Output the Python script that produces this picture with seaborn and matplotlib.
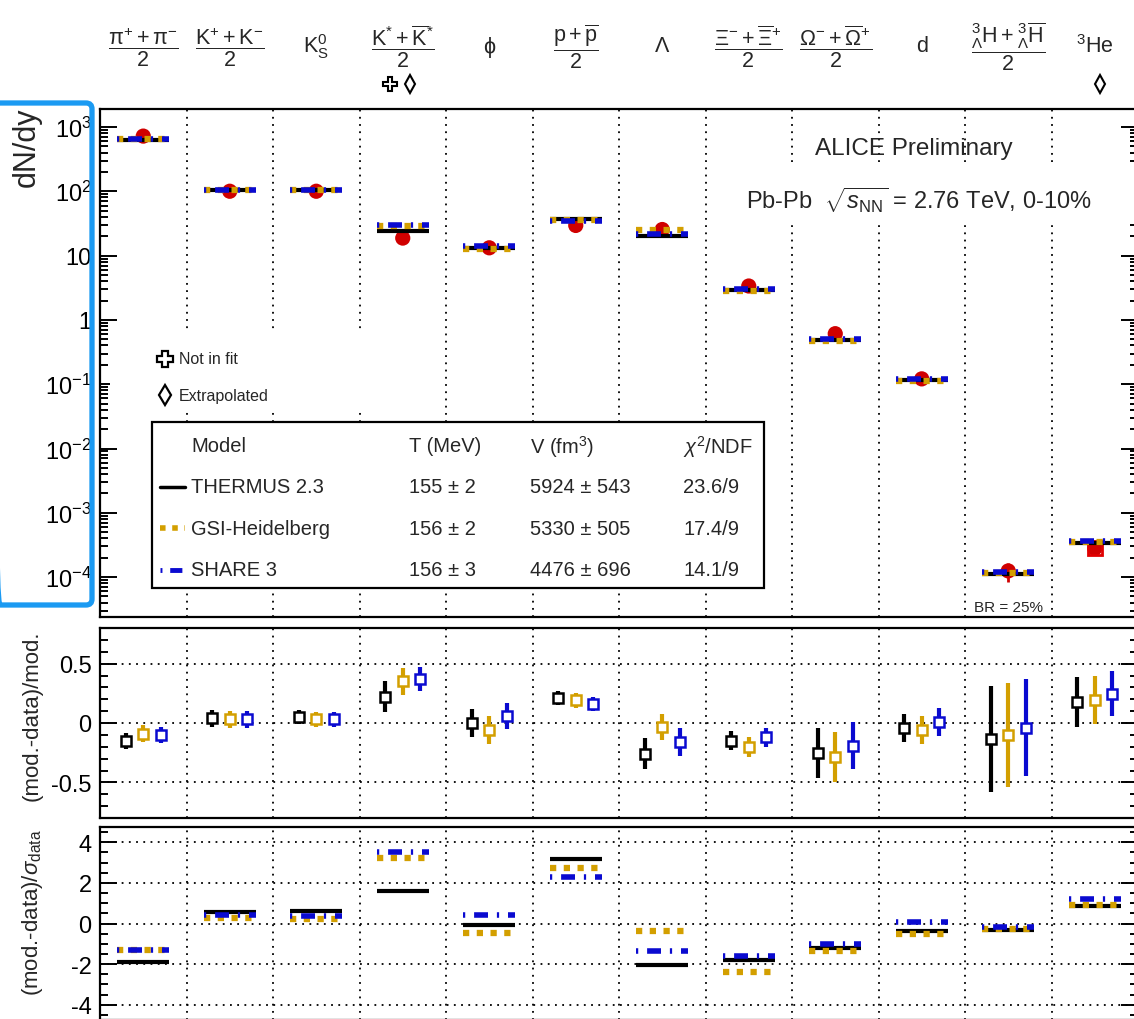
import numpy as np
import matplotlib
matplotlib.use("Agg")
import matplotlib.pyplot as plt
import matplotlib.transforms as mtransforms
from matplotlib.patches import Rectangle, FancyBboxPatch
from matplotlib.lines import Line2D
from matplotlib.ticker import FixedLocator, FixedFormatter, MultipleLocator, NullFormatter
import seaborn as sns
import pandas as pd

# particle species (one column each)
SPECIES = [
    r'$\dfrac{\mathrm{\pi}^{+}+\mathrm{\pi}^{-}}{2}$',
    r'$\dfrac{\mathrm{K}^{+}+\mathrm{K}^{-}}{2}$',
    r'$\mathrm{K}^{0}_{\mathrm{S}}$',
    r'$\dfrac{\mathrm{K}^{*}+\overline{\mathrm{K}}^{*}}{2}$',
    'ϕ',
    r'$\dfrac{\mathrm{p}+\overline{\mathrm{p}}}{2}$',
    r'$\Lambda$',
    r'$\dfrac{\Xi^{-}+\overline{\Xi}^{+}}{2}$',
    r'$\dfrac{\Omega^{-}+\overline{\Omega}^{+}}{2}$',
    'd',
    r'$\dfrac{{}^{3}_{\Lambda}\mathrm{H}+{}^{3}_{\Lambda}\overline{\mathrm{H}}}{2}$',
    r'$^{3}\mathrm{He}$',
]

# dN/dy measured
data_yield = [720, 100, 100, 18.7, 13.2, 29.4, 25.4, 3.36, 0.61, 0.121, 1.25e-4, 2.8e-4]
data_err = [0, 0, 0, 0, 0, 0, 0, 0, 0, 0, 0.4e-4, 0]

# model yields
thermus_yield = [630, 105, 105, 24.0, 13.2, 37.2, 20.2, 2.92, 0.49, 0.116, 1.10e-4, 3.40e-4]
gsi_yield = [660, 103, 103, 28.8, 12.5, 36.3, 24.7, 2.80, 0.475, 0.114, 1.14e-4, 3.48e-4]
share_yield = [655, 103, 103, 29.7, 14.0, 35.0, 21.9, 3.00, 0.51, 0.122, 1.20e-4, 3.70e-4]

# (mod-data)/mod
thermus_ratio = [-0.15, 0.04, 0.05, 0.22, 0.00, 0.21, -0.26, -0.15, -0.25, -0.04, -0.135, 0.175]
gsi_ratio = [-0.09, 0.03, 0.03, 0.35, -0.06, 0.19, -0.03, -0.20, -0.285, -0.06, -0.10, 0.195]
share_ratio = [-0.10, 0.03, 0.03, 0.37, 0.06, 0.16, -0.16, -0.12, -0.19, 0.01, -0.04, 0.245]
thermus_ratio_err = [0.07, 0.07, 0.06, 0.13, 0.12, 0.06, 0.13, 0.08, 0.21, 0.12, 0.45, 0.21]
gsi_ratio_err = [0.07, 0.07, 0.06, 0.11, 0.12, 0.06, 0.11, 0.085, 0.21, 0.12, 0.44, 0.20]
share_ratio_err = [0.07, 0.07, 0.06, 0.10, 0.11, 0.06, 0.12, 0.08, 0.20, 0.12, 0.41, 0.19]

# (mod-data)/sigma
thermus_sigma = [-1.89, 0.55, 0.63, 1.61, -0.08, 3.17, -2.02, -1.82, -1.22, -0.36, -0.34, 0.85]
gsi_sigma = [-1.28, 0.28, 0.24, 3.20, -0.49, 2.75, -0.37, -2.41, -1.37, -0.50, -0.26, 0.93]
share_sigma = [-1.30, 0.41, 0.36, 3.53, 0.41, 2.28, -1.35, -1.58, -0.99, 0.08, -0.15, 1.20]

MODELS = ["THERMUS 2.3", "GSI-Heidelberg", "SHARE 3"]
MODEL_T = ["155 ± 2", "156 ± 2", "156 ± 3"]
MODEL_V = ["5924 ± 543", "5330 ± 505", "4476 ± 696"]
MODEL_CHI2 = ["23.6/9", "17.4/9", "14.1/9"]

colors = ['black', '#d39f00', '#0a0ad0']
styles = ['-', (0, (1.0, 1.2)), (0, (0.4, 1.6, 2.5, 1.6))]
widths = [3.0, 4.5, 4.0]

sns.set_theme(style="ticks")
plt.rcParams['font.family'] = ['Liberation Sans', 'DejaVu Sans']
plt.rcParams['mathtext.fontset'] = 'custom'
plt.rcParams['mathtext.rm'] = 'Liberation Sans'
plt.rcParams['mathtext.it'] = 'Liberation Sans:italic'
plt.rcParams['mathtext.bf'] = 'Liberation Sans:bold'
plt.rcParams['mathtext.sf'] = 'Liberation Sans'

n = len(SPECIES)
xc = np.arange(n) + 0.5
half = 0.3

fig = plt.figure(figsize=(11.34, 10.2), dpi=100)
W, H = 1134.0, 1020.0
left, right = 100 / W, 1138 / W
ax1 = fig.add_axes([left, 1 - 618 / H, right - left, (618 - 110) / H])
ax2 = fig.add_axes([left, 1 - 819 / H, right - left, (819 - 629) / H])
ax3 = fig.add_axes([left, 1 - 1021 / H, right - left, (1021 - 828) / H])

dot = (0, (1, 3))


def style_axis(ax):
    for s in ax.spines.values():
        s.set_color('black')
        s.set_linewidth(1.6)
    ax.set_xlim(0, n)
    ax.tick_params(axis='y', which='both', direction='in', left=True, right=True,
                   width=1.4, labelsize=17, colors='black', pad=6)
    ax.tick_params(axis='y', which='major', length=12)
    ax.tick_params(axis='y', which='minor', length=6)
    ax.tick_params(axis='x', which='both', length=0, labelbottom=False)
    ax.set_facecolor('white')


# ---------------- top panel: yields ----------------
style_axis(ax1)
ax1.set_yscale('log')
ax1.set_ylim(2.4e-5, 1900)
ax1.yaxis.set_major_locator(FixedLocator([1e-4, 1e-3, 1e-2, 1e-1, 1, 10, 100, 1000]))
ax1.yaxis.set_major_formatter(FixedFormatter([r'$10^{-4}$', r'$10^{-3}$', r'$10^{-2}$', r'$10^{-1}$',
                                              '1', '10', r'$10^{2}$', r'$10^{3}$']))
minors = [m * 10.0 ** e for e in range(-5, 4) for m in range(2, 10)]
ax1.yaxis.set_minor_locator(FixedLocator(minors))
ax1.yaxis.set_minor_formatter(NullFormatter())
for b in range(1, n):
    ax1.axvline(b, color='black', lw=1.3, ls=dot, zorder=1)

# white boxes of the text panels hide the dotted lines
ax1.add_patch(Rectangle((0.01, 0.409), 0.30, 0.152, transform=ax1.transAxes,
                        facecolor='white', edgecolor='none', zorder=2))
ax1.add_patch(Rectangle((0.617, 0.778), 0.383, 0.108, transform=ax1.transAxes,
                        facecolor='white', edgecolor='none', zorder=2))

sns.scatterplot(x=xc, y=data_yield, color='#d00000', s=120, edgecolor='none',
                ax=ax1, zorder=4, legend=False)
ax1.errorbar(xc, data_yield, yerr=data_err, fmt='none', ecolor='#d00000', elinewidth=2, zorder=4)
ax1.plot([xc[-1]], [data_yield[-1]], marker='s', ms=10, mfc='none', mec='#e00000', mew=2,
         ls='none', zorder=4)

for yields, c, st, w in zip([thermus_yield, gsi_yield, share_yield], colors, styles, widths):
    ax1.hlines(yields, xc - half, xc + half, colors=c, linestyles=[st], lw=w, zorder=5)

ax1.text(0.784, 0.923, 'ALICE Preliminary', transform=ax1.transAxes, ha='center', va='center',
         fontsize=17.5, zorder=6)
ax1.text(0.789, 0.823, r'Pb-Pb  $\sqrt{s_{\mathrm{NN}}}$ = 2.76 TeV, 0-10%', transform=ax1.transAxes,
         ha='center', va='center', fontsize=17, zorder=6)
ax1.text(10.5, 0.02, 'BR = 25%', transform=mtransforms.blended_transform_factory(ax1.transData, ax1.transAxes),
         ha='center', va='center', fontsize=11, zorder=6)

# not in fit / extrapolated legend
ax1.plot([0.063], [0.508], marker='P', ms=11, mfc='white', mec='black', mew=1.6,
         transform=ax1.transAxes, zorder=6)
ax1.plot([0.063], [0.437], marker='d', ms=10, mfc='white', mec='black', mew=1.6,
         transform=ax1.transAxes, zorder=6)
ax1.text(0.076, 0.508, 'Not in fit', transform=ax1.transAxes, va='center', fontsize=11.5, zorder=6)
ax1.text(0.076, 0.437, 'Extrapolated', transform=ax1.transAxes, va='center', fontsize=11.5, zorder=6)

# model table
ax1.add_patch(Rectangle((0.050, 0.057), 0.590, 0.327, transform=ax1.transAxes,
                        facecolor='white', edgecolor='black', lw=1.6, zorder=6))
row_y = [0.256, 0.175, 0.093]
col_x = [0.088, 0.298, 0.414, 0.562]
for x, h in zip(col_x, ['Model', 'T (MeV)', r'V (fm$^{3}$)', r'$\chi^{2}$/NDF']):
    ax1.text(x, 0.337, h, transform=ax1.transAxes, va='center', fontsize=14.5, zorder=7)
for i in range(3):
    ax1.add_line(Line2D([0.058, 0.082], [row_y[i], row_y[i]], transform=ax1.transAxes,
                        color=colors[i], ls=styles[i], lw=widths[i] - 0.5, zorder=7))
    for x, t in zip(col_x, [MODELS[i], MODEL_T[i], MODEL_V[i], MODEL_CHI2[i]]):
        ax1.text(x, row_y[i], t, transform=ax1.transAxes, va='center', fontsize=14.5, zorder=7)

# species labels above the panel
trans_top = mtransforms.blended_transform_factory(ax1.transData, fig.transFigure)
for x, lab in zip(xc, SPECIES):
    ax1.text(x, 1 - 47 / H, lab, transform=trans_top, ha='center', va='center', fontsize=15.5)
ax1.plot([3.35], [1 - 85 / H], marker='P', ms=10, mfc='white', mec='black', mew=1.5,
         transform=trans_top, clip_on=False)
ax1.plot([3.58], [1 - 85 / H], marker='d', ms=9, mfc='white', mec='black', mew=1.5,
         transform=trans_top, clip_on=False)
ax1.plot([11.56], [1 - 85 / H], marker='d', ms=9, mfc='white', mec='black', mew=1.5,
         transform=trans_top, clip_on=False)

# ---------------- middle panel: (mod-data)/mod ----------------
style_axis(ax2)
ax2.set_ylim(-0.8, 0.8)
ax2.yaxis.set_major_locator(FixedLocator([-0.5, 0, 0.5]))
ax2.yaxis.set_major_formatter(FixedFormatter(['-0.5', '0', '0.5']))
ax2.yaxis.set_minor_locator(MultipleLocator(0.1))
ax2.set_xticks(np.arange(1, n))
ax2.grid(True, which='major', color='black', lw=1.3, ls=dot)

offsets = [-0.2, 0.0, 0.2]
for vals, errs, c, off in zip([thermus_ratio, gsi_ratio, share_ratio],
                              [thermus_ratio_err, gsi_ratio_err, share_ratio_err], colors, offsets):
    ax2.errorbar(xc + off, vals, yerr=errs, fmt='s', ms=7.5, mfc='white', mec=c, mew=1.8,
                 ecolor=c, elinewidth=3, capsize=0, zorder=4)

# ---------------- bottom panel: (mod-data)/sigma ----------------
style_axis(ax3)
ax3.set_ylim(-4.75, 4.75)
ax3.yaxis.set_major_locator(FixedLocator([-4, -2, 0, 2, 4]))
ax3.yaxis.set_major_formatter(FixedFormatter(['-4', '-2', '0', '2', '4']))
ax3.yaxis.set_minor_locator(MultipleLocator(0.5))
ax3.set_xticks(np.arange(1, n))
ax3.grid(True, which='major', color='black', lw=1.3, ls=dot)
for vals, c, st, w in zip([thermus_sigma, gsi_sigma, share_sigma], colors, styles, widths):
    ax3.hlines(vals, xc - half, xc + half, colors=c, linestyles=[st], lw=w, zorder=4)

# axis titles
fig.text(27 / W, 1 - 147 / H, 'dN/dy', rotation=90, ha='center', va='center', fontsize=22)
fig.text(32 / W, 1 - 716 / H, '(mod.-data)/mod.', rotation=90, ha='center', va='center', fontsize=16)
fig.text(33 / W, 1 - 913 / H, r'(mod.-data)/$\sigma_{\mathrm{data}}$', rotation=90,
         ha='center', va='center', fontsize=16)

# highlight frame around the y axis of the top panel
fig.patches.append(FancyBboxPatch((-6, 414), 98, 502, boxstyle='round,pad=0,rounding_size=6',
                                  transform=mtransforms.IdentityTransform(), facecolor='none',
                                  edgecolor='#1b9af2', lw=3.8, figure=fig))

fig.savefig('out.png', dpi=100, facecolor='white')
